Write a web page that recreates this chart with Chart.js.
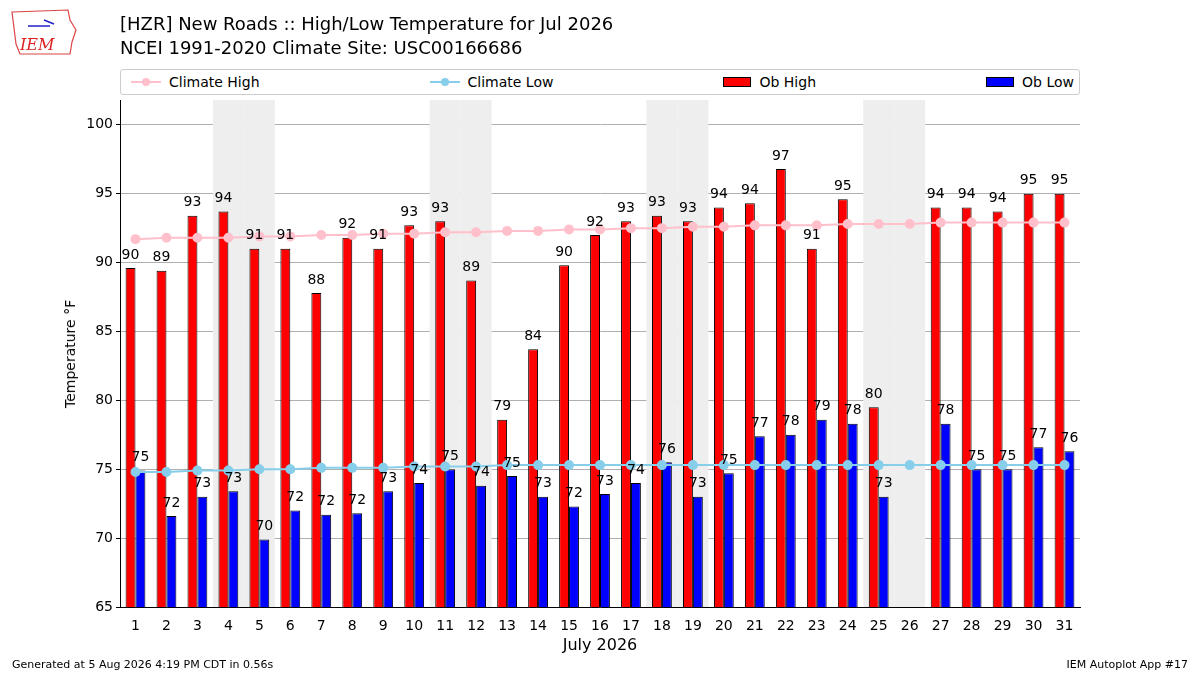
<!DOCTYPE html>
<html>
<head>
<meta charset="utf-8">
<script src="https://cdn.jsdelivr.net/npm/chart.js@4"></script>
<style>
  body { margin: 0; width: 1200px; height: 675px; background: #fff; font-family: "DejaVu Sans", sans-serif; position: relative; overflow: hidden; }
  #wrap { position: absolute; left: 0; top: 0; width: 1200px; height: 675px; }
  .title { position: absolute; left: 120px; font-size: 18px; color: #000; }
  #legend { position: absolute; left: 120px; top: 69px; width: 960px; height: 26px; border: 1px solid #ccc; border-radius: 3px; display: flex; justify-content: space-between; align-items: center; font-size: 14px; padding: 0 5px 0 10px; box-sizing: border-box; background: #fff; }
  #legend span.item { display: flex; align-items: center; gap: 8px; }
  .foot { position: absolute; top: 658px; font-size: 11px; }
  #logo { position: absolute; left: 10px; top: 8px; width: 68px; height: 50px; }
  #ytitle { position: absolute; left: 70px; top: 354px; font-size: 14px; transform: translate(-50%, -50%) rotate(-90deg); white-space: nowrap; }
</style>
</head>
<body>
<div id="wrap"><canvas id="c" width="1200" height="675"></canvas></div>
<svg id="logo" viewBox="0 0 68 50">
  <path d="M2 4 L58 2 L60 12 L66 22 L62 34 L60 46 L10 46 L6 36 L4 20 Z" fill="none" stroke="#d44" stroke-width="1.2"/>
  <text x="10" y="42" font-size="16" font-style="italic" fill="#d22" font-family="DejaVu Serif">IEM</text>
  <path d="M18 18 L40 18 M34 12 L44 16" stroke="#22c" stroke-width="1.5"/>
</svg>
<div class="title" style="top:13px">[HZR] New Roads :: High/Low Temperature for Jul 2026</div>
<div class="title" style="top:37px">NCEI 1991-2020 Climate Site: USC00166686</div>
<div id="legend">
  <span class="item"><svg width="30" height="12"><line x1="0" y1="6" x2="30" y2="6" stroke="pink" stroke-width="2"/><circle cx="15" cy="6" r="4" fill="pink"/></svg>Climate High</span>
  <span class="item"><svg width="30" height="12"><line x1="0" y1="6" x2="30" y2="6" stroke="skyblue" stroke-width="2"/><circle cx="15" cy="6" r="4" fill="skyblue"/></svg>Climate Low</span>
  <span class="item"><svg width="28" height="12"><rect x="0.5" y="1.5" width="27" height="9" fill="red" stroke="#000"/></svg>Ob High</span>
  <span class="item"><svg width="28" height="12"><rect x="0.5" y="1.5" width="27" height="9" fill="blue" stroke="#000"/></svg>Ob Low</span>
</div>
<div id="ytitle">Temperature °F</div>
<div class="foot" style="left:12px">Generated at 5 Aug 2026 4:19 PM CDT in 0.56s</div>
<div class="foot" style="right:12px">IEM Autoplot App #17</div>
<script>
const days = Array.from({length: 31}, (_, i) => String(i + 1));
const weekendDays = [4, 5, 11, 12, 18, 19, 25, 26];
const obHigh = [89.6, 89.4, 93.4, 93.7, 91.0, 91.0, 87.8, 91.8, 91.0, 92.7, 93.0, 88.7, 78.6, 83.7, 89.8, 92.0,
  93.0, 93.4, 93.0, 94.0, 94.3, 96.8, 91.0, 94.6, 79.5, null, 94.0, 94.0, 93.7, 95.0, 95.0];
const obLow = [74.9, 71.6, 73.0, 73.4, 69.9, 72.0, 71.7, 71.8, 73.4, 74.0, 75.0, 73.8, 74.5, 73.0, 72.3, 73.2,
  74.0, 75.5, 73.0, 74.7, 77.4, 77.5, 78.6, 78.3, 73.0, null, 78.3, 75.0, 75.0, 76.6, 76.3];
const climHigh = [91.7, 91.8, 91.8, 91.8, 91.9, 91.9, 92.0, 92.0, 92.1, 92.1, 92.2, 92.2, 92.3, 92.3, 92.4, 92.4,
  92.5, 92.5, 92.6, 92.6, 92.7, 92.7, 92.7, 92.8, 92.8, 92.8, 92.9, 92.9, 92.9, 92.9, 92.9];
const climLow = [74.8, 74.8, 74.9, 74.9, 75.0, 75.0, 75.1, 75.1, 75.1, 75.2, 75.2, 75.2, 75.3, 75.3, 75.3, 75.3,
  75.3, 75.3, 75.3, 75.3, 75.3, 75.3, 75.3, 75.3, 75.3, 75.3, 75.3, 75.3, 75.3, 75.3, 75.3];
const yTicks = [65, 70, 75, 80, 85, 90, 95, 100];

// Grey shading behind weekend days
const weekendShade = {
  id: 'weekendShade',
  beforeDatasetsDraw(chart) {
    const {ctx, chartArea, scales: {x}} = chart;
    const w = x.getPixelForValue(1) - x.getPixelForValue(0);
    ctx.save();
    ctx.fillStyle = '#eeeeee';
    weekendDays.forEach(d => {
      const cx = x.getPixelForValue(d - 1);
      ctx.fillRect(cx - w / 2, chartArea.top, w, chartArea.bottom - chartArea.top);
    });
    ctx.restore();
  }
};

// Rounded value labels above bars
const barLabels = {
  id: 'barLabels',
  afterDatasetsDraw(chart) {
    const ctx = chart.ctx;
    ctx.save();
    ctx.font = '14px "DejaVu Sans"';
    ctx.fillStyle = '#000';
    ctx.textAlign = 'center';
    ctx.textBaseline = 'bottom';
    [2, 3].forEach(di => {
      chart.getDatasetMeta(di).data.forEach((bar, i) => {
        const v = chart.data.datasets[di].data[i];
        if (v == null) return;
        ctx.fillText(String(Math.round(v)), bar.x, bar.y - 6);
      });
    });
    ctx.restore();
  }
};

new Chart(document.getElementById('c'), {
  data: {
    labels: days,
    datasets: [
      { type: 'line', label: 'Climate High', data: climHigh, borderColor: 'pink', backgroundColor: 'pink', borderWidth: 2, pointRadius: 4, order: 0 },
      { type: 'line', label: 'Climate Low', data: climLow, borderColor: 'skyblue', backgroundColor: 'skyblue', borderWidth: 2, pointRadius: 4, order: 0 },
      { type: 'bar', label: 'Ob High', data: obHigh, backgroundColor: 'red', borderColor: '#000', borderWidth: 1, order: 1 },
      { type: 'bar', label: 'Ob Low', data: obLow, backgroundColor: 'blue', borderColor: '#000', borderWidth: 1, order: 1 }
    ]
  },
  options: {
    responsive: false,
    animation: false,
    layout: { padding: { left: 0, right: 120, top: 100, bottom: 20 } },
    datasets: { bar: { categoryPercentage: 0.64, barPercentage: 1.0 } },
    plugins: { legend: { display: false }, tooltip: { enabled: false } },
    scales: {
      x: {
        grid: { display: false, drawTicks: true },
        border: { color: '#000' },
        ticks: { color: '#000', font: { size: 14, family: 'DejaVu Sans' }, maxRotation: 0, autoSkip: false },
        title: { display: true, text: 'July 2026', color: '#000', font: { size: 16, family: 'DejaVu Sans' }, padding: 0 },
        afterFit(s) { s.height = 48; }
      },
      y: {
        min: 65, max: 101.8,
        afterBuildTicks(s) { s.ticks = yTicks.map(v => ({value: v})); },
        grid: { color: '#b0b0b0', drawTicks: true, tickColor: '#000', tickLength: 4 },
        border: { color: '#000' },
        ticks: { color: '#000', font: { size: 14, family: 'DejaVu Sans' } },
        afterFit(s) { s.width = 120; }
      }
    }
  },
  plugins: [weekendShade, barLabels]
});
</script>
</body>
</html>
